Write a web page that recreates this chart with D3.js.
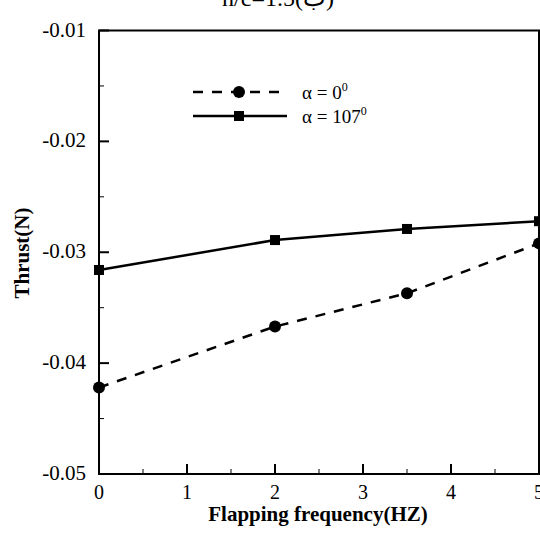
<!DOCTYPE html>
<html><head><meta charset="utf-8">
<script src="https://cdn.jsdelivr.net/npm/d3@7"></script>
<style>body{margin:0;background:#fff}svg{display:block}text{font-family:"Liberation Serif","Times New Roman",serif}</style>
</head><body>
<script>
const freq = [0, 2, 3.5, 5];
const thrustA0 = [-0.0422, -0.0367, -0.0337, -0.0292];
const thrustA107 = [-0.0316, -0.0289, -0.0279, -0.0272];
const xTicks = [0, 1, 2, 3, 4, 5];
const yTicks = [-0.05, -0.04, -0.03, -0.02, -0.01];
const seriesNames = ["α = 0", "α = 107"];

const W = 540, H = 534;
const m = {l: 99, r: 1, t: 30.5, b: 60};
const svg = d3.select("body").append("svg").attr("width", W).attr("height", H);
const x = d3.scaleLinear().domain([0, 5]).range([m.l, W - m.r]);
const y = d3.scaleLinear().domain([-0.05, -0.01]).range([H - m.b, m.t]);

// minor ticks
const g = svg.append("g");
const xMinor = d3.range(0.5, 5, 1);
const yMinor = d3.range(-0.045, -0.01, 0.01);
g.selectAll(".xmin").data(xMinor).enter().append("line")
  .attr("x1", d => x(d)).attr("x2", d => x(d)).attr("y1", y(-0.05)).attr("y2", y(-0.05) - 5)
  .attr("stroke", "#000").attr("stroke-width", 1);
g.selectAll(".ymin").data(yMinor).enter().append("line")
  .attr("x1", x(0)).attr("x2", x(0) + 5).attr("y1", d => y(d)).attr("y2", d => y(d))
  .attr("stroke", "#000").attr("stroke-width", 1);
g.selectAll(".xmaj").data(xTicks).enter().append("line")
  .attr("x1", d => x(d)).attr("x2", d => x(d)).attr("y1", y(-0.05)).attr("y2", y(-0.05) - 10)
  .attr("stroke", "#000").attr("stroke-width", 2);
g.selectAll(".ymaj").data(yTicks).enter().append("line")
  .attr("x1", x(0)).attr("x2", x(0) + 10).attr("y1", d => y(d)).attr("y2", d => y(d))
  .attr("stroke", "#000").attr("stroke-width", 2);

// frame
svg.append("rect").attr("x", x(0)).attr("y", y(-0.01)).attr("width", x(5) - x(0)).attr("height", y(-0.05) - y(-0.01))
  .attr("fill", "none").attr("stroke", "#000").attr("stroke-width", 2);

// tick labels
svg.selectAll(".xl").data(xTicks).enter().append("text")
  .attr("x", d => x(d)).attr("y", y(-0.05) + 25).attr("text-anchor", "middle")
  .attr("font-size", 20).text(d => d3.format("d")(d));
svg.selectAll(".yl").data(yTicks).enter().append("text")
  .attr("x", x(0) - 13).attr("y", d => y(d) + 6).attr("text-anchor", "end")
  .attr("font-size", 21).text(d => d3.format(".2f")(d).replace("−", "-"));

// axis titles
svg.append("text").attr("x", 318).attr("y", 521).attr("text-anchor", "middle")
  .attr("font-size", 21).attr("font-weight", "bold").text("Flapping frequency(HZ)");
svg.append("text").attr("transform", "translate(29,253) rotate(-90)").attr("text-anchor", "middle")
  .attr("font-size", 21).attr("font-weight", "bold").text("Thrust(N)");
svg.append("text").attr("x", 278).attr("y", 6).attr("text-anchor", "middle")
  .attr("font-size", 24).text("h/c=1.5(ب)");

// lines
const line = d3.line().x(d => x(d[0])).y(d => y(d[1]));
const d0 = freq.map((f, i) => [f, thrustA0[i]]);
const d1 = freq.map((f, i) => [f, thrustA107[i]]);
svg.append("path").datum(d0).attr("d", line).attr("fill", "none").attr("stroke", "#000")
  .attr("stroke-width", 2.5).attr("stroke-dasharray", "10,9");
svg.append("path").datum(d1).attr("d", line).attr("fill", "none").attr("stroke", "#000")
  .attr("stroke-width", 2.5);
svg.selectAll(".c").data(d0).enter().append("circle")
  .attr("cx", d => x(d[0])).attr("cy", d => y(d[1])).attr("r", 6).attr("fill", "#000");
svg.selectAll(".s").data(d1).enter().append("rect")
  .attr("x", d => x(d[0]) - 5).attr("y", d => y(d[1]) - 5).attr("width", 10).attr("height", 10).attr("fill", "#000");

// legend
const lg = svg.append("g");
lg.append("line").attr("x1", 193).attr("x2", 287).attr("y1", 92).attr("y2", 92)
  .attr("stroke", "#000").attr("stroke-width", 2.5).attr("stroke-dasharray", "10,9");
lg.append("circle").attr("cx", 239).attr("cy", 92).attr("r", 6).attr("fill", "#000");
lg.append("line").attr("x1", 193).attr("x2", 287).attr("y1", 116).attr("y2", 116)
  .attr("stroke", "#000").attr("stroke-width", 2.5);
lg.append("rect").attr("x", 234).attr("y", 111).attr("width", 10).attr("height", 10).attr("fill", "#000");
[92, 116].forEach((yy, i) => {
  const t = lg.append("text").attr("x", 302).attr("y", yy + 7).attr("font-size", 19).text(seriesNames[i]);
  t.append("tspan").attr("dy", -8).attr("font-size", 12).text("0");
});
</script>
</body></html>
